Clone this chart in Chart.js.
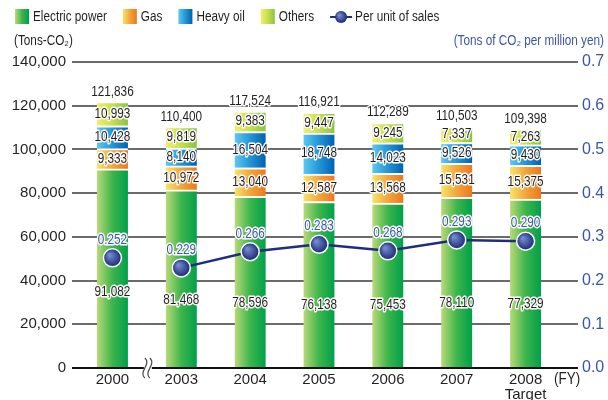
<!DOCTYPE html>
<html lang="en">
<head>
    <meta charset="UTF-8">
    <title>CO2 emissions</title>
    <script src="https://cdn.jsdelivr.net/npm/chart.js"></script>
    <style>
        body { margin: 0; background: #fff; }
        .wrap { width: 608px; height: 400px; position: relative; }
    </style>
</head>
<body>
    <div class="wrap"><canvas id="co2Chart"></canvas></div>

    <script>
        // Data
        const years = ['2000', '2003', '2004', '2005', '2006', '2007', ['2008', 'Target']];
        const electric = [91082, 81468, 78596, 76138, 75453, 78110, 77329];
        const gas = [9333, 10972, 13040, 12587, 13568, 15531, 15375];
        const heavyOil = [10428, 8140, 16504, 18748, 14023, 9526, 9430];
        const others = [10993, 9819, 9383, 9447, 9245, 7337, 7263];
        const totals = [121836, 110400, 117524, 116921, 112289, 110503, 109398];
        const perSales = [0.252, 0.229, 0.266, 0.283, 0.268, 0.293, 0.290];

        const FONT = '"Liberation Sans Narrow", "Arial Narrow", "Liberation Sans", Arial, sans-serif';
        const NAVY = '#1f2f7c';
        const BLUE_TXT = '#3b55a5';
        const DARK = '#231f20';
        const BAR_W = 31;
        const SQUEEZE = 0.84; // fake condensed face

        const ELEC = ['#b9da78', '#3db54b', '#00a04b'];
        const GAS = ['#f8e468', '#f3a53a', '#ec781e'];
        const HEAVY = ['#5cc8f2', '#2496d6', '#0062b0'];
        const OTHER = ['#f3ef66', '#c6de52', '#8ac43f'];

        function barGrad(ctx, cols) {
            const ch = ctx.chart;
            const xs = ch.scales.x;
            if (!xs || ctx.type !== 'data') return cols[1];
            const cx = xs.getPixelForValue(ctx.dataIndex);
            if (!isFinite(cx)) return cols[1];
            const g = ch.ctx.createLinearGradient(cx - BAR_W / 2, 0, cx + BAR_W / 2, 0);
            g.addColorStop(0, cols[0]);
            g.addColorStop(0.5, cols[1]);
            g.addColorStop(1, cols[2]);
            return g;
        }

        function pointGrad(ctx) {
            const ch = ctx.chart;
            const xs = ch.scales.x, ys = ch.scales.y1;
            if (!xs || !ys || ctx.type !== 'data') return NAVY;
            const x = xs.getPixelForValue(ctx.dataIndex);
            const y = ys.getPixelForValue(ctx.raw);
            if (!isFinite(x) || !isFinite(y)) return NAVY;
            const g = ch.ctx.createRadialGradient(x - 3, y - 3, 1, x, y, 9);
            g.addColorStop(0, '#7389cf');
            g.addColorStop(1, '#1b2a72');
            return g;
        }

        // condensed text, optional white halo
        function sqText(ctx, txt, x, y, color, withHalo) {
            ctx.save();
            ctx.translate(x, y);
            ctx.scale(SQUEEZE, 1);
            if (withHalo) {
                ctx.lineWidth = 3;
                ctx.lineJoin = 'round';
                ctx.strokeStyle = '#fff';
                ctx.strokeText(txt, 0, 0);
            }
            ctx.fillStyle = color;
            ctx.fillText(txt, 0, 0);
            ctx.restore();
        }

        const fmt = v => v.toLocaleString('en-US');

        const legendItems = [
            { text: 'Electric power', cols: ELEC },
            { text: 'Gas', cols: GAS },
            { text: 'Heavy oil', cols: HEAVY },
            { text: 'Others', cols: OTHER },
            { text: 'Per unit of sales', line: true }
        ];

        // Extra drawing: grid, labels, legend, titles
        const decor = {
            id: 'decor',
            beforeDatasetsDraw(chart) {
                const { ctx, chartArea: a, scales: { y } } = chart;
                ctx.save();
                ctx.strokeStyle = '#3a3a3a';
                ctx.lineWidth = 1.5;
                y.ticks.forEach(t => {
                    if (t.value === 0) return;
                    const py = Math.round(y.getPixelForValue(t.value));
                    ctx.beginPath();
                    ctx.moveTo(a.left - 6, py);
                    ctx.lineTo(a.right + 18, py);
                    ctx.stroke();
                });
                ctx.restore();
            },
            afterDatasetsDraw(chart) {
                const { ctx, chartArea: a, scales: { x, y } } = chart;
                ctx.save();
                // baseline
                const by = Math.round(y.getPixelForValue(0));
                ctx.strokeStyle = '#111';
                ctx.lineWidth = 2;
                ctx.beginPath();
                ctx.moveTo(a.left - 6, by);
                ctx.lineTo(a.right + 18, by);
                ctx.stroke();

                // axis break mark between 2000 and 2003
                const bx = (x.getPixelForValue(0) + x.getPixelForValue(1)) / 2;
                const wave = (dx) => {
                    ctx.moveTo(bx + dx, by - 10);
                    ctx.bezierCurveTo(bx + dx + 7, by - 4, bx + dx - 7, by + 4, bx + dx, by + 10);
                };
                ctx.fillStyle = '#fff';
                ctx.beginPath();
                ctx.rect(bx - 3, by - 3, 8, 6);
                ctx.fill();
                ctx.strokeStyle = '#444';
                ctx.lineWidth = 1.2;
                ctx.beginPath();
                wave(-2);
                wave(3);
                ctx.stroke();

                // bar labels
                ctx.font = '14px ' + FONT;
                ctx.textAlign = 'center';
                ctx.textBaseline = 'middle';
                chart.data.datasets.forEach((ds, di) => {
                    if (ds.type !== 'bar') return;
                    const meta = chart.getDatasetMeta(di);
                    meta.data.forEach((el, i) => {
                        let ly = (el.y + el.base) / 2;
                        if (ds.isBottom) ly = el.base - (el.base - el.y) * 0.38;
                        sqText(ctx, fmt(ds.data[i]), el.x, ly, DARK, true);
                        if (ds.isTop) sqText(ctx, fmt(totals[i]), el.x, el.y - 10, DARK, true);
                    });
                });

                // line labels
                const lmeta = chart.getDatasetMeta(0);
                lmeta.data.forEach((pt, i) => {
                    sqText(ctx, perSales[i].toFixed(3), pt.x, pt.y - 18, BLUE_TXT, true);
                });
                ctx.restore();
            },
            afterDraw(chart) {
                const { ctx, chartArea: a } = chart;
                ctx.save();
                ctx.font = '14px ' + FONT;
                ctx.textBaseline = 'middle';
                ctx.textAlign = 'left';
                // legend
                let lx = 15;
                const ly = 17;
                legendItems.forEach(it => {
                    const tw = ctx.measureText(it.text).width * SQUEEZE;
                    if (it.line) {
                        ctx.strokeStyle = NAVY;
                        ctx.lineWidth = 2;
                        ctx.beginPath();
                        ctx.moveTo(lx, ly);
                        ctx.lineTo(lx + 22, ly);
                        ctx.stroke();
                        const g = ctx.createRadialGradient(lx + 9, ly - 2, 1, lx + 11, ly, 6);
                        g.addColorStop(0, '#7389cf');
                        g.addColorStop(1, '#1b2a72');
                        ctx.fillStyle = g;
                        ctx.beginPath();
                        ctx.arc(lx + 11, ly, 6, 0, Math.PI * 2);
                        ctx.fill();
                        sqText(ctx, it.text, lx + 25, ly, DARK, false);
                        lx += 25 + tw + 16;
                    } else {
                        const g = ctx.createLinearGradient(lx, 0, lx + 14, 0);
                        g.addColorStop(0, it.cols[0]);
                        g.addColorStop(0.5, it.cols[1]);
                        g.addColorStop(1, it.cols[2]);
                        ctx.fillStyle = g;
                        ctx.fillRect(lx, ly - 8, 14, 15);
                        sqText(ctx, it.text, lx + 18, ly, DARK, false);
                        lx += 18 + tw + 16;
                    }
                });
                // axis titles
                sqText(ctx, '(Tons-CO\u2082)', 14, 41, DARK, false);
                ctx.textAlign = 'right';
                sqText(ctx, '(Tons of CO\u2082 per million yen)', 604, 41, BLUE_TXT, false);
                // FY
                ctx.font = '16px ' + FONT;
                ctx.textAlign = 'left';
                sqText(ctx, '(FY)', a.right - 6, a.bottom + 12, DARK, false);
                ctx.restore();
            }
        };

        const barBase = {
            type: 'bar',
            stack: 'co2',
            yAxisID: 'y',
            order: 1,
            barThickness: BAR_W,
            borderColor: '#fff',
            borderWidth: { top: 2, left: 0, right: 0, bottom: 0 },
            borderSkipped: false
        };

        new Chart(document.getElementById('co2Chart'), {
            data: {
                labels: years,
                datasets: [
                    {
                        type: 'line',
                        label: 'Per unit of sales',
                        data: perSales,
                        yAxisID: 'y1',
                        order: 0,
                        borderColor: NAVY,
                        borderWidth: 2.5,
                        segment: {
                            borderColor: c => c.p0DataIndex === 0 ? 'rgba(0,0,0,0)' : NAVY
                        },
                        pointRadius: 9,
                        pointBorderColor: '#fff',
                        pointBorderWidth: 1.5,
                        pointBackgroundColor: pointGrad
                    },
                    Object.assign({}, barBase, { label: 'Electric power', data: electric, isBottom: true, backgroundColor: c => barGrad(c, ELEC) }),
                    Object.assign({}, barBase, { label: 'Gas', data: gas, backgroundColor: c => barGrad(c, GAS) }),
                    Object.assign({}, barBase, { label: 'Heavy oil', data: heavyOil, backgroundColor: c => barGrad(c, HEAVY) }),
                    Object.assign({}, barBase, { label: 'Others', data: others, isTop: true, backgroundColor: c => barGrad(c, OTHER) })
                ]
            },
            options: {
                responsive: true,
                maintainAspectRatio: false,
                animation: false,
                layout: { padding: { top: 62, left: 0, right: 0, bottom: 0 } },
                plugins: {
                    legend: { display: false },
                    tooltip: { enabled: false }
                },
                scales: {
                    x: {
                        stacked: true,
                        grid: { display: false, drawTicks: false },
                        border: { display: false },
                        ticks: {
                            color: DARK,
                            padding: 4,
                            font: { family: FONT, size: 15, lineHeight: 1.0 },
                            maxRotation: 0
                        },
                        afterFit(s) { s.height = 32; }
                    },
                    y: {
                        stacked: true,
                        position: 'left',
                        min: 0,
                        max: 140000,
                        grid: { display: false, drawTicks: false },
                        border: { display: false },
                        ticks: {
                            stepSize: 20000,
                            color: DARK,
                            padding: 12,
                            font: { family: FONT, size: 15 },
                            callback: v => fmt(v)
                        },
                        afterFit(s) { s.width = 78; }
                    },
                    y1: {
                        position: 'right',
                        min: 0,
                        max: 0.7,
                        grid: { display: false, drawTicks: false },
                        border: { display: false },
                        ticks: {
                            stepSize: 0.1,
                            color: BLUE_TXT,
                            padding: 22,
                            font: { family: FONT, size: 16 },
                            callback: v => v.toFixed(1)
                        },
                        afterFit(s) { s.width = 48; }
                    }
                }
            },
            plugins: [decor]
        });
    </script>
</body>
</html>
